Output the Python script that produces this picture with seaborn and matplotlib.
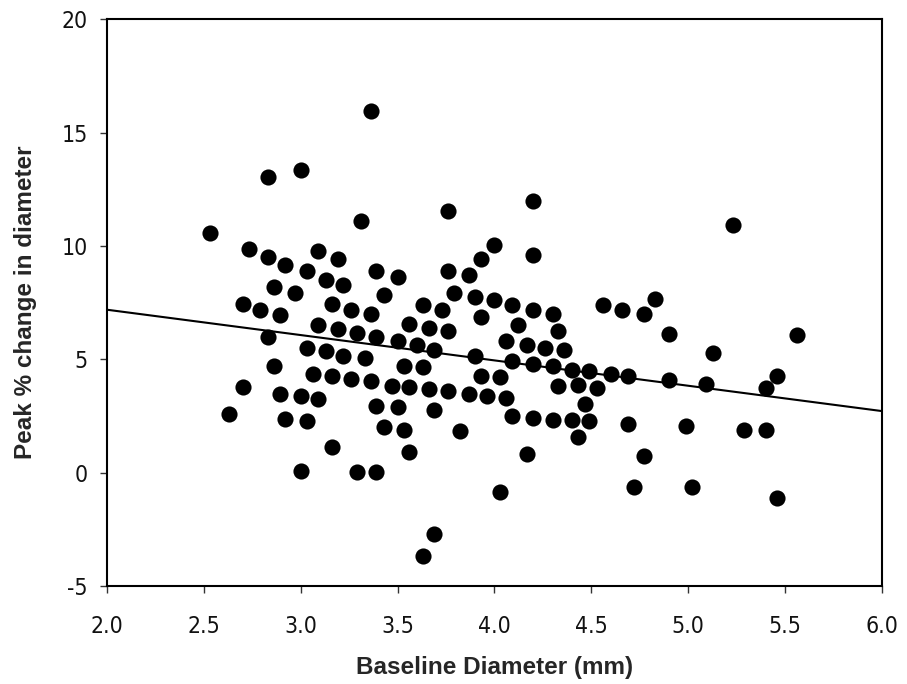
import matplotlib
matplotlib.use("Agg")
import matplotlib.pyplot as plt
from matplotlib import font_manager
import seaborn as sns
import pandas as pd

# Baseline diameter (mm) for each subject
baseline_diameter = [
    2.83, 3.00, 2.53, 2.73, 2.83, 2.92, 3.03, 3.09, 3.19, 3.13, 3.22, 2.86, 2.97, 3.31, 2.70, 3.16,
    2.79, 2.89, 3.26, 3.09, 3.19, 3.29, 2.83, 3.03, 3.13, 3.22, 3.33, 2.86, 3.06, 3.16, 3.26,
    2.70, 2.89, 3.00, 3.09, 2.63, 2.92, 3.03, 3.16, 3.00, 3.29,
    3.36, 3.76, 4.20, 4.20, 4.00, 3.93, 3.39, 3.50, 3.76, 3.87, 3.43, 3.79, 3.90, 4.00,
    4.09, 4.20, 4.30, 3.36, 3.63, 3.73, 3.93, 4.12, 4.33, 3.39, 3.56, 3.66, 3.76,
    3.50, 3.60, 3.69, 3.90, 4.06, 4.17, 4.26, 4.36, 4.09, 4.20, 4.30, 4.40, 4.49,
    3.53, 3.63, 3.36, 3.47, 3.56, 3.66, 3.76, 3.87, 3.96, 4.06, 3.93, 4.03, 4.33, 4.43, 4.47,
    3.39, 3.50, 3.69, 4.09, 4.20, 4.30, 4.40, 4.49, 3.43, 3.53, 3.82, 4.43, 3.56, 4.17,
    3.39, 4.03, 3.69, 3.63,
    5.23, 4.56, 4.66, 4.77, 4.83, 4.90, 5.13, 5.56, 4.60, 4.69, 4.90, 5.09, 5.46, 5.40,
    4.53, 4.69, 4.99, 5.29, 5.40, 4.77, 4.72, 5.02, 5.46,
]

# Peak % change in diameter for each subject
peak_change = [
    13.04, 13.38, 10.59, 9.85, 9.51, 9.16, 8.89, 9.78, 9.41, 8.52, 8.27, 8.19, 7.93, 11.10, 7.46, 7.46,
    7.20, 6.95, 7.20, 6.51, 6.32, 6.15, 5.98, 5.51, 5.36, 5.17, 5.07, 4.73, 4.36, 4.28, 4.14,
    3.77, 3.49, 3.40, 3.25, 2.61, 2.37, 2.27, 1.13, 0.06, 0.04,
    15.96, 11.54, 11.98, 9.60, 10.04, 9.41, 8.89, 8.63, 8.89, 8.72, 7.86, 7.92, 7.76, 7.60,
    7.39, 7.20, 7.02, 7.02, 7.39, 7.20, 6.86, 6.51, 6.24, 5.98, 6.58, 6.39, 6.24,
    5.80, 5.62, 5.43, 5.17, 5.80, 5.62, 5.51, 5.43, 4.92, 4.81, 4.73, 4.55, 4.48,
    4.73, 4.65, 4.03, 3.84, 3.77, 3.70, 3.59, 3.49, 3.40, 3.30, 4.28, 4.21, 3.84, 3.85, 3.05,
    2.96, 2.89, 2.78, 2.52, 2.42, 2.34, 2.34, 2.27, 2.00, 1.90, 1.83, 1.56, 0.91, 0.84,
    0.03, -0.85, -2.69, -3.67,
    10.92, 7.38, 7.20, 7.02, 7.67, 6.14, 5.26, 6.06, 4.37, 4.28, 4.11, 3.93, 4.28, 3.74,
    3.74, 2.16, 2.08, 1.90, 1.90, 0.75, -0.63, -0.63, -1.12,
]

# Fitted line endpoints
fit_x = [2.0, 6.0]
fit_y = [7.19, 2.72]

x_ticks = [2.0, 2.5, 3.0, 3.5, 4.0, 4.5, 5.0, 5.5, 6.0]
y_ticks = [-5, 0, 5, 10, 15, 20]

df = pd.DataFrame({"x": baseline_diameter, "y": peak_change})
fit_df = pd.DataFrame({"x": fit_x, "y": fit_y})

sns.set_theme(style="white")
plt.rcParams["font.family"] = ["Liberation Sans", "DejaVu Sans"]

# pick a condensed face for tick labels if one is installed
installed = {(f.name, f.stretch) for f in font_manager.fontManager.ttflist}
names = {n for n, _ in installed}
if "Liberation Sans Narrow" in names:
    tick_props = dict(fontfamily="Liberation Sans Narrow", fontsize=18)
elif any(n == "DejaVu Sans" and s == "condensed" for n, s in installed):
    tick_props = dict(fontfamily="DejaVu Sans", fontstretch="condensed", fontsize=16.5)
else:
    tick_props = dict(fontfamily="Liberation Sans", fontsize=16)

fig = plt.figure(figsize=(9.07, 6.84), dpi=100)
ax = fig.add_axes([0.1183, 0.1433, 0.9721 - 0.1183, 0.9715 - 0.1433])

sns.lineplot(data=fit_df, x="x", y="y", ax=ax, color="black", linewidth=1.5, zorder=1)
sns.scatterplot(data=df, x="x", y="y", ax=ax, color="black", s=135, edgecolor="black",
                linewidth=0, zorder=2)

ax.set_xlim(2.0, 6.0)
ax.set_ylim(-5, 20)
ax.set_xticks(x_ticks)
ax.set_xticklabels([f"{v:.1f}" for v in x_ticks])
ax.set_yticks(y_ticks)
ax.set_yticklabels([str(v) for v in y_ticks])

for lab in ax.get_xticklabels() + ax.get_yticklabels():
    for k, v in tick_props.items():
        getattr(lab, "set_" + k)(v)
    lab.set_color("#111111")

ax.tick_params(axis="both", direction="out", length=5, width=1, color="#333333",
               bottom=True, left=True, top=False, right=False)
ax.tick_params(axis="x", pad=16)
ax.tick_params(axis="y", pad=9)

for side in ["top", "right", "bottom", "left"]:
    ax.spines[side].set_visible(True)
    ax.spines[side].set_color("black")
    ax.spines[side].set_linewidth(1.5)

ax.set_xlabel("Baseline Diameter (mm)", fontsize=17.5, fontweight="bold", labelpad=13)
ax.set_ylabel("Peak % change in diameter", fontsize=17.5, fontweight="bold", labelpad=18)

fig.savefig("out.png", dpi=100)
